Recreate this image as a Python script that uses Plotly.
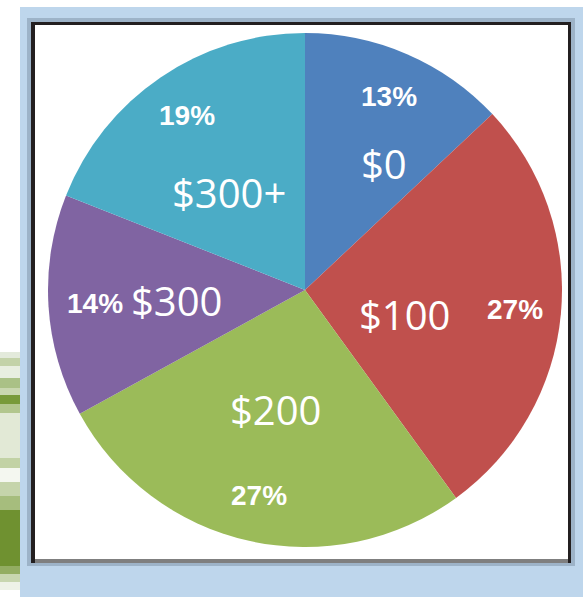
import math
import plotly.graph_objects as go

# ---- data ----
categories = ["$0", "$100", "$200", "$300", "$300+"]
shares = [13, 27, 27, 14, 19]
pct_labels = ["13%", "27%", "27%", "14%", "19%"]
colors = ["#4f81bd", "#c0504d", "#9bbb59", "#8064a2", "#4bacc6"]

# ---- style / layout constants ----
W, H = 583, 597
CX, CY, R = 305, 290, 257          # pie centre and radius in pixels
pct_radius = 0.82
cat_radius = [0.58, 0.40, 0.48, 0.50, 0.48]
cat_angle_shift = [8.5, 8.6, 1.4, -1.0, -3.8]

fig = go.Figure(go.Pie(
    labels=categories,
    values=shares,
    sort=False,
    direction="clockwise",
    rotation=0,
    marker=dict(colors=colors, line=dict(width=0)),
    textinfo="none",
    hoverinfo="label+percent",
    showlegend=False,
    domain=dict(x=[(CX - R) / W, (CX + R) / W],
                y=[1 - (CY + R) / H, 1 - (CY - R) / H]),
))

def px_rect(x0, y0, x1, y1, color, opacity=1.0):
    return dict(type="rect", xref="paper", yref="paper", layer="below",
                x0=x0 / W, x1=x1 / W, y0=1 - y1 / H, y1=1 - y0 / H,
                fillcolor=color, opacity=opacity, line=dict(width=0))

shapes = []
# green decorative streaks at the far left (soft, blurred look)
streaks = [
    (352, 358, "#e3eadb", 1.0), (358, 366, "#c3d2a8", 1.0),
    (366, 378, "#e8eee0", 1.0), (378, 388, "#aac186", 1.0),
    (388, 395, "#c9d7b0", 1.0), (395, 404, "#789a3a", 1.0),
    (404, 413, "#b2c68e", 1.0), (413, 458, "#e2e9d6", 1.0),
    (458, 468, "#c2d2a5", 1.0), (468, 482, "#f4f7f0", 1.0),
    (482, 496, "#c5d4ab", 1.0), (496, 510, "#a6bd7d", 1.0),
    (510, 566, "#6f9130", 1.0), (566, 574, "#93ad62", 1.0),
    (574, 582, "#c8d6b0", 1.0), (582, 590, "#eef2e8", 1.0),
]
for y0, y1, c, o in streaks:
    shapes.append(px_rect(0, y0, 20, y1, c, o))
# light blue frame
shapes.append(px_rect(20, 7, W + 2, H + 2, "#bed6ec"))
# shadow
shapes.append(px_rect(27, 18, 575, 566, "#9db3c8"))
# black border
shapes.append(px_rect(31, 22, 571, 563, "#231f20"))
# bottom gray edge
shapes.append(px_rect(35, 559, 568, 563, "#7f7f7f"))
# white plot area
shapes.append(px_rect(35, 25, 568, 559, "#ffffff"))

annotations = []
total = sum(shares)
start = 0.0
for i, v in enumerate(shares):
    span = 360.0 * v / total
    mid = start + span / 2
    # percent label
    a = math.radians(mid)
    px = CX + pct_radius * R * math.sin(a)
    py = CY - pct_radius * R * math.cos(a)
    annotations.append(dict(
        x=px / W, y=1 - py / H, xref="paper", yref="paper", showarrow=False,
        text="<b>" + pct_labels[i] + "</b>",
        font=dict(family="Liberation Sans", size=28, color="#ffffff"),
        xanchor="center", yanchor="middle"))
    # category label
    a2 = math.radians(mid + cat_angle_shift[i])
    qx = CX + cat_radius[i] * R * math.sin(a2)
    qy = CY - cat_radius[i] * R * math.cos(a2)
    annotations.append(dict(
        x=qx / W, y=1 - qy / H, xref="paper", yref="paper", showarrow=False,
        text=categories[i],
        font=dict(family="Open Sans", size=40, color="#ffffff"),
        xanchor="center", yanchor="middle"))
    start += span

fig.update_layout(
    width=W, height=H,
    margin=dict(l=0, r=0, t=0, b=0),
    paper_bgcolor="#ffffff",
    plot_bgcolor="#ffffff",
    shapes=shapes,
    annotations=annotations,
)

fig.write_html("out.html",
               config={"displayModeBar": False},
               post_script="document.body.style.margin='0px';"
                           "document.body.style.overflow='hidden';")
